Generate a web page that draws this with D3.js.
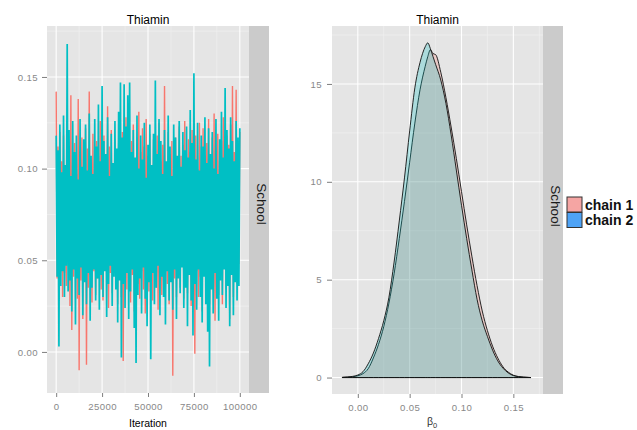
<!DOCTYPE html>
<html>
<head>
<meta charset="utf-8">
<script src="https://cdn.jsdelivr.net/npm/d3@7"></script>
<style>
  body { margin: 0; background: #fff; }
  text { font-family: "Liberation Sans", Arial, sans-serif; }
</style>
</head>
<body>
<svg id="chart" width="637" height="430"></svg>
<script>
// trace values, one every 500 iterations
var iterStep = 500;
var chain1Trace = [
  .142,.040,.112,.033,.120,.046,.104,.030,.118,.043,
  .099,.036,.126,.048,.109,.025,.140,.012,.106,.041,
  .114,.045,.097,.029,.138,-.010,.108,.039,.117,.018,
  .102,.047,.122,-.007,.111,.035,.142,.042,.105,.027,
  .119,.044,.098,.031,.115,.040,.107,.047,.126,.034,
  .104,.028,.118,.045,.100,.037,.134,.024,.112,.043,
  .121,.032,.103,.046,.116,.040,.108,.026,.114,.048,
  .099,.030,.120,-.005,.106,.044,.128,.034,.110,.046,
  .101,.027,.115,.042,.124,.022,.104,.046,.117,.037,
  .131,.029,.109,.044,.122,.034,.112,.021,.127,.047,
  .107,.033,.119,.041,.099,.028,.116,.047,.110,.035,
  .118,.023,.125,.043,.104,.031,.113,.039,.145,.045,
  .101,.037,.120,.026,.108,.046,.115,-.013,.103,.040,
  .117,.030,.098,.045,.123,.035,.107,.047,.113,.029,
  .126,.042,.102,.032,.116,.046,.109,.025,.121,.038,
  .105,-.001,.118,.044,.100,.030,.125,.041,.112,.022,
  .122,.046,.107,.033,.114,.040,.127,.026,.102,.043,
  .117,.036,.130,.017,.110,.045,.119,.031,.104,.041,
  .115,.026,.128,.047,.108,.034,.118,.039,.113,.018,
  .124,.043,.145,.030,.109,.044,.143,.037,.115,.048,
  .120
];
var chain2Trace = [
  .118,.041,.110,.003,.124,.036,.098,.044,.129,.030,
  .102,.047,.168,.033,.121,.039,.096,.022,.126,.045,
  .109,.015,.118,.040,.094,.031,.127,.046,.101,.020,
  .116,.038,.124,.026,.099,.043,.130,.017,.107,.035,
  .097,.045,.127,.028,.112,.040,.135,.023,.104,.042,
  .145,.030,.115,.044,.108,.019,.128,.037,.096,.047,
  .119,.025,.103,.041,.126,.034,.111,.016,.131,.039,
  .147,-.003,.117,.037,.146,.024,.123,.043,.140,.018,
  .147,.033,.109,.045,.121,.013,.106,-.006,.129,.031,
  .100,.040,.118,.021,.105,.046,.125,.029,.095,.014,
  .113,.038,.124,-.004,.102,.043,.119,.026,.148,.035,
  .108,.047,.127,.020,.115,.041,.097,.030,.121,.015,
  .104,.044,.129,.028,.112,.038,.096,.023,.124,.045,
  .117,.018,.107,.040,.126,.032,.101,.046,.120,.024,
  .110,.035,.123,.014,.106,.042,.132,.028,.114,.009,
  .152,.037,.105,.023,.125,.045,.099,.030,.118,.016,
  .112,.041,.128,.026,.103,.011,.122,-.008,.108,.034,
  .120,.021,.100,.043,.127,.029,.097,.017,.116,.039,
  .131,.031,.106,.045,.144,.024,.121,.036,.111,.014,
  .128,.042,.115,.020,.104,.038,.126,.028,.117,.036,
  .122
];

// density curves
var densX = [-0.015,-0.01,-0.005,0,0.005,0.01,0.015,0.02,0.025,0.03,0.035,0.04,0.045,0.05,0.055,0.06,0.065,0.0675,0.07,0.0725,0.075,0.08,0.085,0.09,0.095,0.1,0.105,0.11,0.115,0.12,0.125,0.13,0.135,0.14,0.145,0.15,0.155,0.16,0.167];
var chain1Dens = [0.01,0.02,0.04,0.09,0.2,0.45,1.0,1.7,2.6,3.8,5.3,7.1,9.0,11.0,13.0,14.7,15.9,16.4,16.75,16.55,16.5,15.6,14.3,12.8,11.2,9.5,7.8,6.2,4.7,3.4,2.4,1.6,1.0,0.55,0.28,0.12,0.05,0.02,0.0];
var chain2Dens = [0.01,0.03,0.06,0.13,0.3,0.7,1.25,2.0,2.9,4.1,5.9,8.0,10.2,12.6,14.8,16.1,16.9,17.1,16.8,16.4,16.0,15.2,14.0,12.4,10.6,8.8,7.1,5.5,4.0,2.9,2.1,1.4,0.85,0.48,0.24,0.1,0.05,0.02,0.0];

var chains = ["chain 1", "chain 2"];
var xTicksTrace = [0, 25000, 50000, 75000, 100000];
var yTicksTrace = [0, 0.05, 0.10, 0.15];
var xTicksDens = [0, 0.05, 0.10, 0.15];
var yTicksDens = [0, 5, 10, 15];

var svg = d3.select("#chart");
var lineCol = ["#F8766D", "#00BFC4"];
var legendCol = ["#F5A5A3", "#4EA3F6"];

// ---------- helpers ----------
function panelBg(x0, x1, y0, y1) {
  svg.append("rect").attr("x", x0).attr("y", y0)
    .attr("width", x1 - x0).attr("height", y1 - y0)
    .attr("fill", "#E5E5E5");
}
function grid(xs, ys, xMaj, yMaj, x0, x1, y0, y1) {
  function mids(t, sc) {
    var step = t[1] - t[0];
    var out = [];
    var ext = [t[0] - step].concat(t, [t[t.length - 1] + step]);
    for (var i = 0; i < ext.length - 1; i++) out.push((ext[i] + ext[i + 1]) / 2);
    var d = sc.domain();
    return out.filter(function (v) { return v > d[0] && v < d[1]; });
  }
  var g = svg.append("g");
  mids(xMaj, xs).forEach(function (v) {
    g.append("line").attr("x1", xs(v)).attr("x2", xs(v)).attr("y1", y0).attr("y2", y1)
      .attr("stroke", "#F2F2F2").attr("stroke-width", 0.6);
  });
  mids(yMaj, ys).forEach(function (v) {
    g.append("line").attr("y1", ys(v)).attr("y2", ys(v)).attr("x1", x0).attr("x2", x1)
      .attr("stroke", "#F2F2F2").attr("stroke-width", 0.6);
  });
  xMaj.forEach(function (v) {
    g.append("line").attr("x1", xs(v)).attr("x2", xs(v)).attr("y1", y0).attr("y2", y1)
      .attr("stroke", "#fff").attr("stroke-width", 1.1);
  });
  yMaj.forEach(function (v) {
    g.append("line").attr("y1", ys(v)).attr("y2", ys(v)).attr("x1", x0).attr("x2", x1)
      .attr("stroke", "#fff").attr("stroke-width", 1.1);
  });
}
function styleAxis(g) {
  g.select(".domain").remove();
  g.selectAll(".tick line").attr("stroke", "#7F7F7F");
  g.selectAll(".tick text").attr("fill", "#888").style("font-size", "9.6px")
    .style("letter-spacing", "0.4px");
}
function strip(x0, y0, y1, label, ty) {
  svg.append("rect").attr("x", x0).attr("y", y0).attr("width", 20).attr("height", y1 - y0)
    .attr("fill", "#CBCBCB");
  svg.append("text")
    .attr("transform", "translate(" + (x0 + 8) + "," + ty + ") rotate(90)")
    .attr("text-anchor", "middle")
    .style("font-size", "13.5px").attr("fill", "#1a1a1a")
    .text(label);
}

// ---------- left: trace ----------
var L = { x0: 47, x1: 249, y0: 26, y1: 393 };
var xT = d3.scaleLinear().domain([-5000, 105000]).range([L.x0, L.x1]);
var yT = d3.scaleLinear().domain([-0.0224, 0.1778]).range([L.y1, L.y0]);

panelBg(L.x0, L.x1, L.y0, L.y1);
grid(xT, yT, xTicksTrace, yTicksTrace, L.x0, L.x1, L.y0, L.y1);

svg.append("clipPath").attr("id", "clipL").append("rect")
  .attr("x", L.x0).attr("y", L.y0).attr("width", L.x1 - L.x0).attr("height", L.y1 - L.y0);

var traceLine = d3.line()
  .x(function (d, i) { return xT(i * iterStep); })
  .y(function (d) { return yT(d); });

var traceWidth = [1.4, 1.7];
[chain1Trace, chain2Trace].forEach(function (tr, k) {
  svg.append("path").attr("clip-path", "url(#clipL)")
    .attr("d", traceLine(tr))
    .attr("fill", "none").attr("stroke", lineCol[k]).attr("stroke-width", traceWidth[k]);
});

svg.append("g").attr("transform", "translate(" + L.x0 + ",0)")
  .call(d3.axisLeft(yT).tickValues(yTicksTrace).tickSize(5).tickPadding(4).tickFormat(d3.format(".2f")))
  .call(styleAxis);
svg.append("g").attr("transform", "translate(0," + L.y1 + ")")
  .call(d3.axisBottom(xT).tickValues(xTicksTrace).tickSize(4).tickPadding(6).tickFormat(d3.format("d")))
  .call(styleAxis);

strip(L.x1, L.y0, L.y1, "School", 204);

svg.append("text").attr("x", (L.x0 + L.x1) / 2).attr("y", 23.5)
  .attr("text-anchor", "middle").style("font-size", "12px").text("Thiamin");
svg.append("text").attr("x", (L.x0 + L.x1) / 2).attr("y", 427)
  .attr("text-anchor", "middle").style("font-size", "10.5px").text("Iteration");

// ---------- right: density ----------
var R = { x0: 332, x1: 543, y0: 26, y1: 394 };
var xD = d3.scaleLinear().domain([-0.0249, 0.1786]).range([R.x0, R.x1]);
var yD = d3.scaleLinear().domain([-0.84, 17.96]).range([R.y1, R.y0]);

panelBg(R.x0, R.x1, R.y0, R.y1);
grid(xD, yD, xTicksDens, yTicksDens, R.x0, R.x1, R.y0, R.y1);

var densArea = d3.area()
  .curve(d3.curveMonotoneX)
  .x(function (d, i) { return xD(densX[i]); })
  .y0(yD(0))
  .y1(function (d) { return yD(d); });

[chain1Dens, chain2Dens].forEach(function (dn, k) {
  svg.append("path")
    .attr("d", densArea(dn))
    .attr("fill", lineCol[k]).attr("fill-opacity", 0.25)
    .attr("stroke", "#111").attr("stroke-width", 0.9);
});

svg.append("g").attr("transform", "translate(" + R.x0 + ",0)")
  .call(d3.axisLeft(yD).tickValues(yTicksDens).tickSize(5).tickPadding(5).tickFormat(d3.format("d")))
  .call(styleAxis);
svg.append("g").attr("transform", "translate(0," + R.y1 + ")")
  .call(d3.axisBottom(xD).tickValues(xTicksDens).tickSize(4).tickPadding(6).tickFormat(d3.format(".2f")))
  .call(styleAxis);

strip(R.x1, R.y0, R.y1, "School", 206);

svg.append("text").attr("x", (R.x0 + R.x1) / 2).attr("y", 23.5)
  .attr("text-anchor", "middle").style("font-size", "12px").text("Thiamin");

var bl = svg.append("text").attr("x", 432).attr("y", 425)
  .attr("text-anchor", "middle").style("font-size", "10.5px").attr("fill", "#333");
bl.append("tspan").text("β");
bl.append("tspan").attr("dy", 2.5).style("font-size", "7.5px").text("0");

// ---------- legend ----------
var leg = svg.append("g").selectAll("g").data(chains).enter().append("g")
  .attr("transform", function (d, i) { return "translate(567," + (197 + i * 15.5) + ")"; });
leg.append("rect").attr("width", 15).attr("height", 15)
  .attr("fill", function (d, i) { return legendCol[i]; })
  .attr("stroke", "#333").attr("stroke-width", 1);
leg.append("text").attr("x", 18).attr("y", 12.5)
  .style("font-size", "14px").style("font-weight", "bold").attr("fill", "#111")
  .text(function (d) { return d; });
</script>
</body>
</html>
